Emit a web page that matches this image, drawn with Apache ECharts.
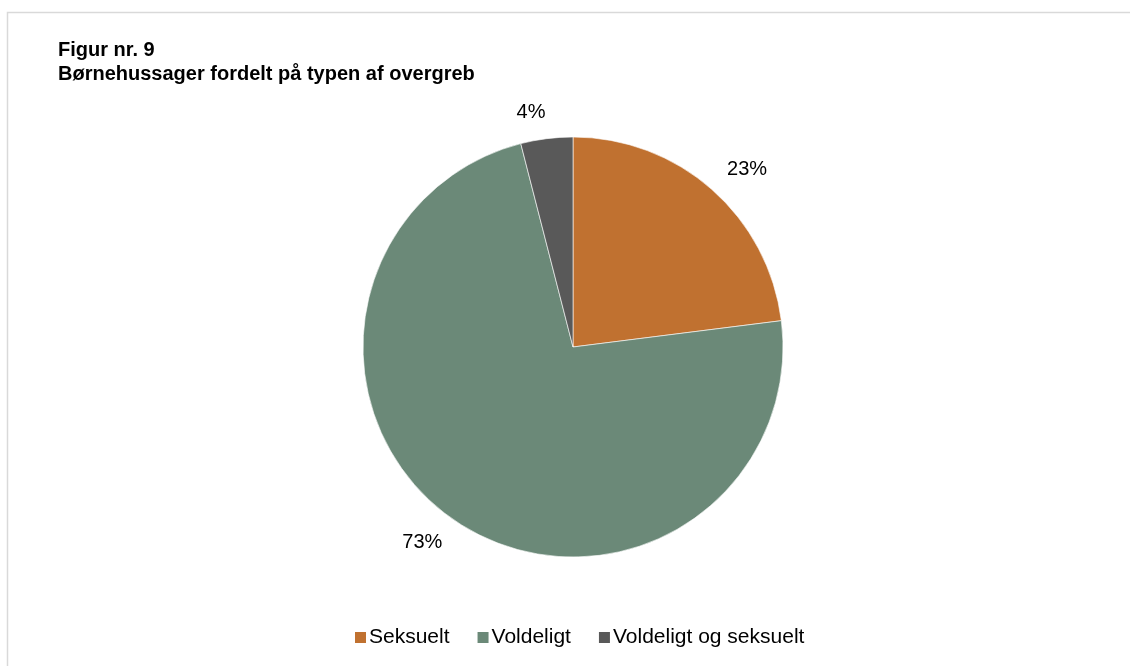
<!DOCTYPE html>
<html>
<head>
<meta charset="utf-8">
<script src="https://cdn.jsdelivr.net/npm/echarts@6/dist/echarts.min.js"></script>
<style>
html,body{margin:0;padding:0;background:#fff;}
#chart{width:1130px;height:666px;}
</style>
</head>
<body>
<div id="chart"></div>
<script>
const titleLines = ['Figur nr. 9', 'Børnehussager fordelt på typen af overgreb'];
const categories = ['Seksuelt', 'Voldeligt', 'Voldeligt og seksuelt'];
const values = [23, 73, 4];
const colors = ['#C07130', '#6B8978', '#595959'];

const chart = echarts.init(document.getElementById('chart'), null, {renderer: 'canvas'});
const font = '"Liberation Sans", Arial, sans-serif';

chart.setOption({
  backgroundColor: '#ffffff',
  animation: false,
  graphic: [{
    type: 'rect',
    shape: {x: 7.5, y: 12.5, width: 1200, height: 700},
    style: {fill: 'none', stroke: '#D9D9D9', lineWidth: 1.5},
    silent: true
  }],
  title: {
    text: titleLines.join('\n'),
    left: 58,
    top: 38,
    padding: 0,
    textStyle: {fontFamily: font, fontSize: 20, fontWeight: 'bold', color: '#000', lineHeight: 24}
  },
  legend: {
    data: categories,
    left: 355,
    top: 627,
    icon: 'rect',
    itemWidth: 11,
    itemHeight: 11,
    itemGap: 28,
    padding: 0,
    itemStyle: {borderWidth: 0},
    textStyle: {fontFamily: font, fontSize: 21, color: '#000', padding: [0, 0, 0, -2]}
  },
  series: [{
    type: 'pie',
    center: [573, 347],
    radius: 210,
    startAngle: 90,
    clockwise: true,
    avoidLabelOverlap: false,
    itemStyle: {borderColor: '#ffffff', borderWidth: 0.6},
    label: {
      show: true,
      position: 'outside',
      fontFamily: font,
      fontSize: 20,
      color: '#000',
      formatter: p => Math.round(p.percent) + '%'
    },
    labelLine: {show: false, length: 26, length2: -7},
    emphasis: {disabled: true},
    data: categories.map((c, i) => ({name: c, value: values[i], itemStyle: {color: colors[i]}}))
  }]
});
</script>
</body>
</html>
